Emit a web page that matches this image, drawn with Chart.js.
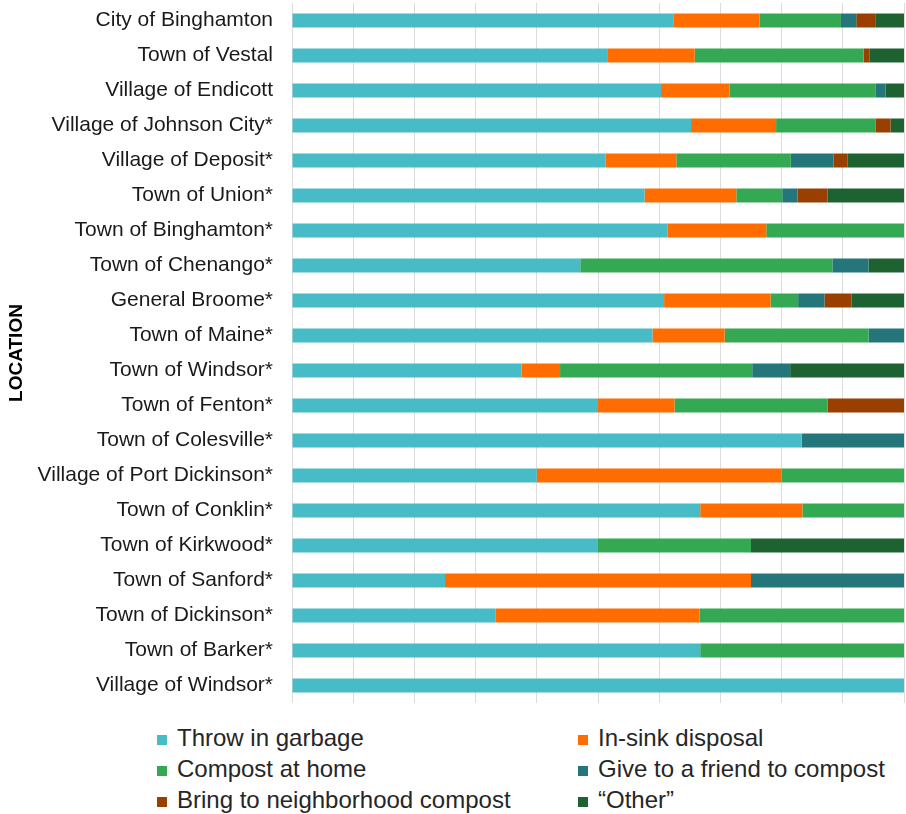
<!DOCTYPE html>
<html>
<head>
<meta charset="utf-8">
<script src="https://cdn.jsdelivr.net/npm/chart.js@4"></script>
<style>
  body { margin: 0; background: #fff; font-family: "Liberation Sans", Arial, sans-serif; }
  #wrap { position: relative; width: 906px; height: 814px; }
  #box { position: absolute; left: 0; top: 0; width: 906px; height: 706px; }
  #leyenda { position: absolute; left: 157px; top: 722px; width: 749px; }
  .item { position: absolute; font-size: 24px; color: #262626; white-space: nowrap; line-height: 31px; }
  .item span { display: inline-block; width: 10px; height: 10px; margin-right: 10px; vertical-align: 1px; }
</style>
</head>
<body>
<div id="wrap">
  <div id="box"><canvas id="grafico"></canvas></div>
  <div id="leyenda"></div>
</div>
<script>
// lugares (eje y)
const lugares = [
  "City of Binghamton", "Town of Vestal", "Village of Endicott", "Village of Johnson City*",
  "Village of Deposit*", "Town of Union*", "Town of Binghamton*", "Town of Chenango*",
  "General Broome*", "Town of Maine*", "Town of Windsor*", "Town of Fenton*",
  "Town of Colesville*", "Village of Port Dickinson*", "Town of Conklin*", "Town of Kirkwood*",
  "Town of Sanford*", "Town of Dickinson*", "Town of Barker*", "Village of Windsor*"
];

// porcentajes por serie
const basura   = [62.4, 51.5, 60.3, 65.2, 51.2, 57.6, 61.4, 47.1, 60.8, 58.9, 37.5, 50.0, 83.3, 40.0, 66.7, 50.0, 25.0, 33.3, 66.7, 100];
const lavabo   = [14.0, 14.3, 11.2, 13.9, 11.6, 15.0, 16.1, 0,    17.4, 11.8, 6.3,  12.5, 0,    40.0, 16.7, 0,    50.0, 33.3, 0,    0];
const casa     = [13.3, 27.6, 23.9, 16.3, 18.7, 7.5,  22.5, 41.2, 4.5,  23.5, 31.4, 25.0, 0,    20.0, 16.6, 25.0, 0,    33.4, 33.3, 0];
const amigo    = [2.5,  0,    1.6,  0,    7.0,  2.5,  0,    5.9,  4.3,  5.8,  6.2,  0,    16.7, 0,    0,    0,    25.0, 0,    0,    0];
const vecindad = [3.2,  1.0,  0,    2.4,  2.3,  4.9,  0,    0,    4.4,  0,    0,    12.5, 0,    0,    0,    0,    0,    0,    0,    0];
const otro     = [4.6,  5.6,  3.0,  2.2,  9.2,  12.5, 0,    5.8,  8.6,  0,    18.6, 0,    0,    0,    0,    25.0, 0,    0,    0,    0];

const nombres = ["Throw in garbage", "In-sink disposal", "Compost at home", "Give to a friend to compost", "Bring to neighborhood compost", "\u201COther\u201D"];
const colores = ["#48BCC6", "#FF6D00", "#34A853", "#24767A", "#993F00", "#1E6232"];
const series = [basura, lavabo, casa, amigo, vecindad, otro];

const datasets = series.map((d, i) => ({
  label: nombres[i],
  data: d,
  backgroundColor: colores[i],
  borderWidth: 0,
  barPercentage: 0.4,
  categoryPercentage: 1
}));

new Chart(document.getElementById('grafico'), {
  type: 'bar',
  data: { labels: lugares, datasets: datasets },
  options: {
    indexAxis: 'y',
    responsive: true,
    maintainAspectRatio: false,
    animation: false,
    layout: { padding: { top: 3, right: 2, bottom: 3, left: 0 } },
    plugins: { legend: { display: false }, tooltip: { enabled: false } },
    scales: {
      x: {
        stacked: true,
        min: 0,
        max: 100,
        ticks: { display: false, stepSize: 10 },
        grid: { color: '#dcdcdc', drawTicks: false },
        border: { display: false }
      },
      y: {
        stacked: true,
        // ancho fijo y sin relleno extra arriba/abajo
        afterFit: (scale) => {
          scale.width = 292;
          scale.paddingTop = 0;
          scale.paddingBottom = 0;
        },
        ticks: { color: '#1a1a1a', padding: 19, font: { family: '"Liberation Sans", Arial, sans-serif', size: 21 } },
        grid: { display: false, drawTicks: false },
        border: { display: false },
        title: {
          display: true,
          text: 'LOCATION',
          color: '#000',
          padding: { top: 5, bottom: 0 },
          font: { family: '"Liberation Sans", Arial, sans-serif', size: 19, weight: 'bold' }
        }
      }
    }
  }
});

// leyenda en dos columnas
const leyenda = document.getElementById('leyenda');
nombres.forEach((n, i) => {
  const div = document.createElement('div');
  div.className = 'item';
  div.style.left = (i % 2 === 0 ? 0 : 421) + 'px';
  div.style.top = (Math.floor(i / 2) * 31) + 'px';
  div.innerHTML = '<span style="background:' + colores[i] + '"></span>' + n;
  leyenda.appendChild(div);
});
</script>
</body>
</html>
